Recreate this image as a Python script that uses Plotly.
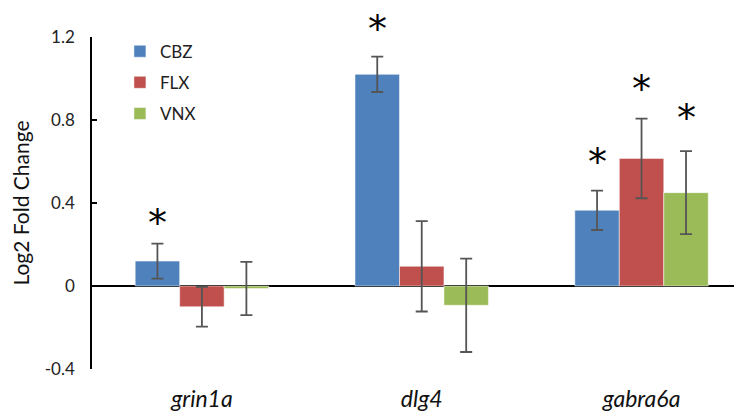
import plotly.graph_objects as go

genes = ["grin1a", "dlg4", "gabra6a"]
gene_labels = ["<i>grin1a</i>", "<i>dlg4</i>", "<i>gabra6a</i>"]
series = ["CBZ", "FLX", "VNX"]
colors = ["#4F81BD", "#C0504D", "#9BBB59"]

cbz = [0.12, 1.02, 0.365]
flx = [-0.10, 0.095, 0.615]
vnx = [-0.012, -0.093, 0.45]
cbz_err = [0.084, 0.085, 0.095]
flx_err = [0.096, 0.218, 0.192]
vnx_err = [0.128, 0.225, 0.200]

# significance asterisks: (gene index, series index, y position in data units)
star_gene = [0, 1, 2, 2, 2]
star_series = [0, 0, 0, 1, 2]
star_y = [0.328, 1.263, 0.622, 0.973, 0.834]

y_min, y_max = -0.4, 1.2
y_ticks = [-0.4, 0, 0.4, 0.8, 1.2]
y_tick_labels = ["-0.4", "0", "0.4", "0.8", "1.2"]

values = [cbz, flx, vnx]
errors = [cbz_err, flx_err, vnx_err]

fig = go.Figure()
for name, col, v, e in zip(series, colors, values, errors):
    fig.add_trace(go.Bar(
        x=genes, y=v, name=name, legendgroup=name,
        marker=dict(color=col, line=dict(color="rgba(255,255,255,0.5)", width=1)),
        error_y=dict(type="data", array=e, visible=True, color="#555555",
                     thickness=1.8, width=6),
    ))

bar_w = (1 - 0.393) / 3
for g, s, y in zip(star_gene, star_series, star_y):
    fig.add_annotation(x=g + (s - 1) * bar_w, y=(y - y_min) / (y_max - y_min),
                       xref="x", yref="paper",
                       text="*", showarrow=False, yanchor="middle", yshift=-5,
                       font=dict(size=38, color="black", family="DejaVu Sans"))

# the page body adds an 8px offset, so the figure is sized to the visible area
fig.update_layout(
    width=734, height=408,
    margin=dict(l=84, r=0, t=29, b=47, autoexpand=False),
    paper_bgcolor="white", plot_bgcolor="white",
    barmode="group", bargap=0.393, bargroupgap=0,
    font=dict(family="Lato", size=17, color="#222222"),
    showlegend=True,
    legend=dict(x=0.043, y=1.01, xanchor="left", yanchor="top",
                traceorder="grouped", tracegroupgap=6,
                font=dict(size=17, color="#222222"),
                bgcolor="rgba(0,0,0,0)"),
    xaxis=dict(type="category", range=[-0.5, 2.457], tickmode="array",
               tickvals=genes, ticktext=gene_labels, showline=False,
               showgrid=False, ticks="", ticklabelstandoff=14, automargin=False,
               tickfont=dict(size=23, color="#111111")),
    yaxis=dict(range=[y_min, y_max], tickvals=y_ticks, ticktext=y_tick_labels,
               showgrid=False, showline=True, linecolor="black", linewidth=1.5,
               ticks="inside", ticklen=5, tickwidth=1.5, tickcolor="black",
               ticklabelstandoff=12, automargin=False,
               tickfont=dict(size=17, color="#222222"),
               zeroline=True, zerolinecolor="black", zerolinewidth=1.5,
               title=dict(text="Log2 Fold Change", font=dict(size=21, color="#111111"),
                          standoff=9)),
)

fig.write_html("out.html")
